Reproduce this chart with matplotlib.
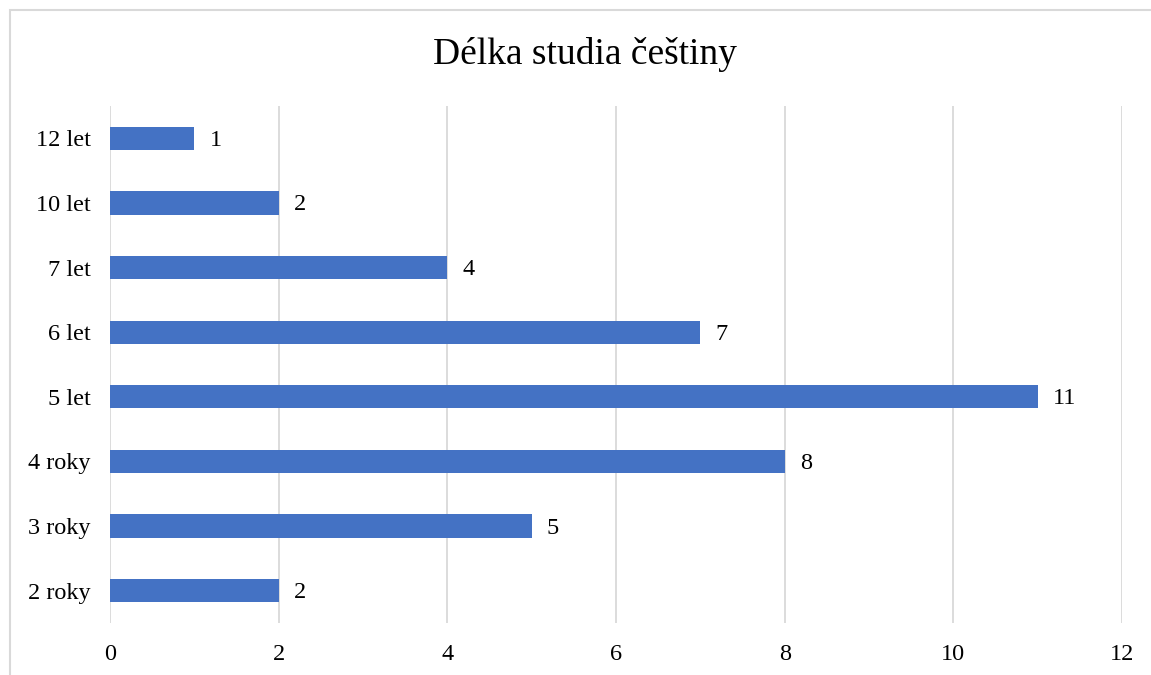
import matplotlib.pyplot as plt
import matplotlib.patches as patches

categories = ["2 roky", "3 roky", "4 roky", "5 let", "6 let", "7 let", "10 let", "12 let"]
values = [2, 5, 8, 11, 7, 4, 2, 1]
xticks = [0, 2, 4, 6, 8, 10, 12]

plt.rcParams['font.family'] = ['Liberation Serif', 'DejaVu Serif']

W, H = 1151, 675
fig = plt.figure(figsize=(W / 100, H / 100), dpi=100)

# light frame around chart area (cropped on right/bottom)
fig.patches.append(patches.Rectangle((10 / W, -0.1), 1.2, 1 - 10 / H + 0.1,
                                     transform=fig.transFigure, fill=False,
                                     edgecolor='#D9D9D9', linewidth=1.5))

ax = fig.add_axes([110 / W, 1 - 623 / H, (1122 - 110) / W, (623 - 106) / H])

y = list(range(len(categories)))
ax.barh(y, values, height=0.36, color='#4472C4', zorder=3)
for yi, v in zip(y, values):
    ax.text(v + 0.18, yi - 0.03, str(v), va='center', ha='left', fontsize=17.5)

ax.set_xlim(0, 12)
ax.set_ylim(-0.5, len(categories) - 0.5)
ax.set_xticks(xticks)
ax.set_xticklabels([str(t) for t in xticks], fontsize=17.5)
ax.set_yticks(y)
ax.set_yticklabels(categories, fontsize=17.5)
ax.tick_params(length=0)
ax.tick_params(axis='x', pad=15)
ax.tick_params(axis='y', pad=14)
ax.grid(axis='x', color='#D9D9D9', linewidth=1.3, zorder=0)
for s in ax.spines.values():
    s.set_visible(False)

fig.text(0.508, 1 - 54 / H, "Délka studia češtiny", ha='center', va='center', fontsize=27)

fig.savefig('out.png', dpi=100)
